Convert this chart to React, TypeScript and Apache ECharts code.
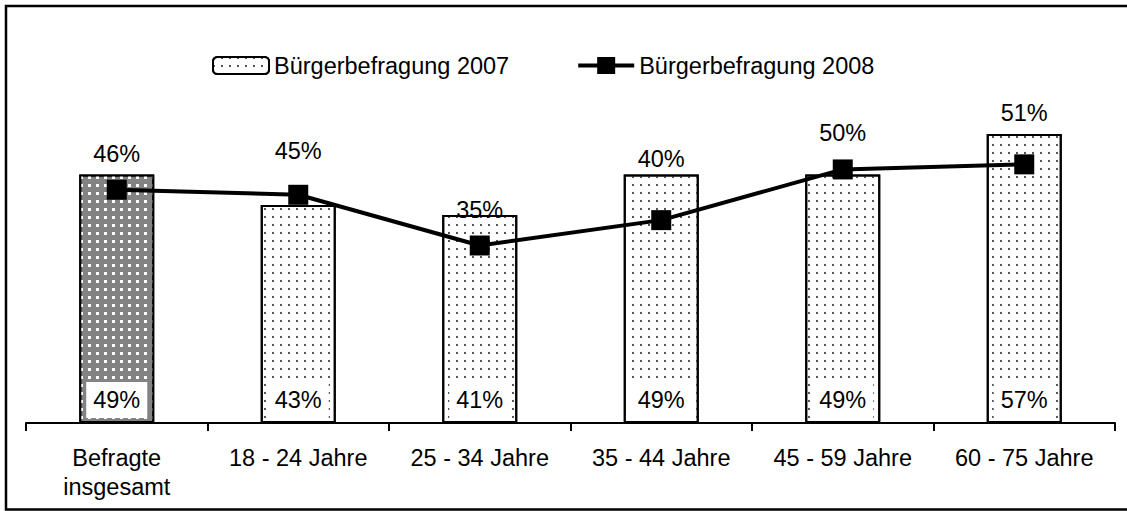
import React, { useEffect, useRef } from "react";
import * as echarts from "echarts";

const categories = [
  "Befragte\ninsgesamt",
  "18 - 24 Jahre",
  "25 - 34 Jahre",
  "35 - 44 Jahre",
  "45 - 59 Jahre",
  "60 - 75 Jahre",
];
const values2007 = [49, 43, 41, 49, 49, 57];
const values2008 = [46, 45, 35, 40, 50, 51];
const seriesNames = ["Bürgerbefragung 2007", "Bürgerbefragung 2008"];
// extra upward shift (px) of the 2008 value labels, as placed in the original
const lineLabelExtraLift = [0, 8, 0, 25, 0, 15];

const FONT = "'Liberation Sans', Arial, sans-serif";
const FS = 23.5;

const lightDecal = {
  symbol: "rect",
  symbolSize: 1,
  color: "#555",
  dashArrayX: [2, 6],
  dashArrayY: [2, 6],
  rotation: 0,
};
const darkDecal = {
  symbol: "rect",
  symbolSize: 1,
  color: "#ffffff",
  dashArrayX: [3, 5],
  dashArrayY: [3, 5],
  rotation: 0,
};

export default function App() {
  const ref = useRef<HTMLDivElement>(null);
  useEffect(() => {
    if (!ref.current) return;
    const chart = echarts.init(ref.current, null, { renderer: "svg" });
    const barData = values2007.map((v, i) =>
      i === 0
        ? { value: v, itemStyle: { color: "#838383", decal: darkDecal } }
        : { value: v }
    );
    const lineData = values2008.map((v, i) => ({
      value: v,
      label: { offset: [0, -lineLabelExtraLift[i]] },
    }));
    chart.setOption({
      animation: false,
      textStyle: { fontFamily: FONT, color: "#000" },
      graphic: [
        {
          type: "rect",
          shape: { x: 6, y: 6, width: 1140, height: 503.5 },
          style: { fill: "none", stroke: "#000", lineWidth: 2.5 },
          silent: true,
        },
      ],
      legend: {
        left: 212,
        top: 53.5,
        padding: 0,
        itemWidth: 56,
        itemHeight: 17,
        itemGap: 69,
        textStyle: { fontSize: FS, color: "#000", fontFamily: FONT },
        data: [
          { name: seriesNames[0] },
          {
            name: seriesNames[1],
            icon:
              "path://M0 6.5L56 6.5L56 10.5L0 10.5Z M19 0L37 0L37 17L19 17Z",
            itemStyle: { color: "#000", borderWidth: 0 },
          },
        ],
      },
      grid: { left: 26, right: 12, top: 68, bottom: 88 },
      xAxis: {
        type: "category",
        data: categories,
        axisLine: { lineStyle: { color: "#000", width: 2 } },
        axisTick: { show: true, length: 8, lineStyle: { color: "#000", width: 2 } },
        axisLabel: {
          color: "#000",
          fontSize: FS,
          fontFamily: FONT,
          lineHeight: 29,
          margin: 20,
          interval: 0,
        },
      },
      yAxis: {
        type: "value",
        min: 0,
        max: 70,
        show: false,
        splitLine: { show: false },
      },
      series: [
        {
          name: seriesNames[0],
          type: "bar",
          data: barData,
          barWidth: 75,
          itemStyle: {
            color: "#ffffff",
            borderColor: "#000",
            borderWidth: 2,
            decal: lightDecal,
          },
          label: {
            show: true,
            position: "insideBottom",
            distance: 5,
            formatter: "{c}%",
            fontSize: FS,
            fontFamily: FONT,
            color: "#000",
            backgroundColor: "#fff",
            padding: [6, 7],
          },
          z: 2,
        },
        {
          name: seriesNames[1],
          type: "line",
          data: lineData,
          symbol: "rect",
          symbolSize: 20,
          lineStyle: { color: "#000", width: 4 },
          itemStyle: { color: "#000" },
          label: {
            show: true,
            position: "top",
            distance: 14,
            formatter: "{c}%",
            fontSize: FS,
            fontFamily: FONT,
            color: "#000",
          },
          z: 3,
        },
      ],
    });
    return () => chart.dispose();
  }, []);
  return (
    <div
      ref={ref}
      style={{ position: "fixed", left: 0, top: 0, width: 1127, height: 511, background: "#fff" }}
    />
  );
}
